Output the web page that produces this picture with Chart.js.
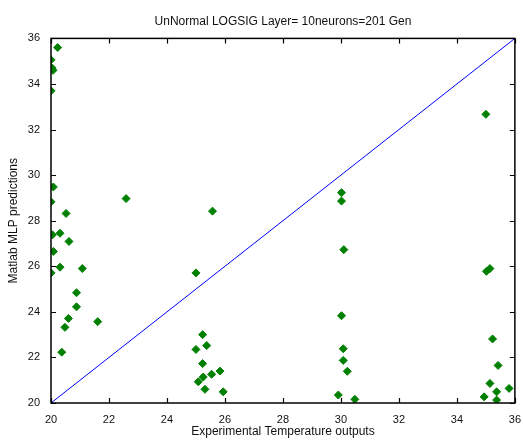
<!DOCTYPE html>
<html>
<head>
<meta charset="utf-8">
<script src="https://cdn.jsdelivr.net/npm/chart.js@4"></script>
<style>
  body { margin: 0; background: #fff; }
  #wrap { width: 523px; height: 442px; }
</style>
</head>
<body>
<div id="wrap"><canvas id="myChart"></canvas></div>
<script>
const expX = [
  20.23, 20.0, 20.04, 20.07, 20.0,
  20.08, 20.0, 22.59, 20.52, 20.05, 20.31, 20.62, 20.08, 20.31, 20.0, 21.08,
  20.88, 20.88, 20.6, 20.48, 21.61, 20.37,
  25.57, 25.0, 25.23, 25.0, 25.37, 25.23, 25.83, 25.54, 25.25, 25.08, 25.31, 25.94,
  30.02, 30.02, 30.1, 30.02, 30.08, 30.08, 30.22, 29.91, 30.48,
  35.0, 35.02, 35.14, 35.23, 35.42, 35.14, 35.8, 35.37, 34.94, 35.37,
];
const mlpY = [
  35.6, 35.06, 34.7, 34.6, 33.7,
  29.48, 28.83, 28.97, 28.32, 27.38, 27.45, 27.09, 26.65, 25.96, 25.71, 25.9,
  24.84, 24.22, 23.71, 23.32, 23.57, 22.23,
  28.42, 25.71, 23.0, 22.35, 22.52, 21.73, 21.4, 21.26, 21.14, 20.93, 20.6, 20.49,
  29.23, 28.86, 26.73, 23.83, 22.38, 21.87, 21.39, 20.35, 20.16,
  32.67, 25.78, 25.9, 22.81, 21.65, 20.86, 20.64, 20.49, 20.27, 20.13,
];
const lineX = [20, 36];
const lineY = [20, 36];

const FONT = "'Liberation Sans', Arial, sans-serif";

const points = expX.map((v, i) => ({ x: v, y: mlpY[i] }));
const idealLine = lineX.map((v, i) => ({ x: v, y: lineY[i] }));

// matlab style box with inward ticks on all sides
const boxTicks = {
  id: "boxTicks",
  afterDraw(chart) {
    const { ctx, chartArea, scales } = chart;
    const { left, right, top, bottom } = chartArea;
    ctx.save();
    ctx.strokeStyle = "#000";
    ctx.lineWidth = 1.5;
    ctx.strokeRect(left, top, right - left, bottom - top);
    ctx.lineWidth = 1.2;
    ctx.beginPath();
    scales.x.ticks.forEach((t) => {
      const px = Math.round(scales.x.getPixelForValue(t.value)) + 0.5;
      ctx.moveTo(px, bottom);
      ctx.lineTo(px, bottom - 5);
      ctx.moveTo(px, top);
      ctx.lineTo(px, top + 5);
    });
    scales.y.ticks.forEach((t) => {
      const py = Math.round(scales.y.getPixelForValue(t.value)) + 0.5;
      ctx.moveTo(left, py);
      ctx.lineTo(left + 5, py);
      ctx.moveTo(right, py);
      ctx.lineTo(right - 5, py);
    });
    ctx.stroke();
    ctx.restore();
  },
};

new Chart(document.getElementById("myChart").getContext("2d"), {
  type: "scatter",
  data: {
    datasets: [
      {
        label: "ideal",
        type: "line",
        data: idealLine,
        borderColor: "#0000ff",
        borderWidth: 1,
        pointRadius: 0,
        fill: false,
      },
      {
        label: "predictions",
        data: points,
        pointStyle: "rectRot",
        pointRadius: 4,
        backgroundColor: "#008000",
        borderColor: "#008000",
        borderWidth: 1,
      },
    ],
  },
  options: {
    responsive: true,
    maintainAspectRatio: false,
    animation: false,
    layout: { padding: { top: 1, right: 8, left: 0, bottom: 0 } },
    scales: {
      x: {
        type: "linear",
        min: 20,
        max: 36,
        grid: { display: false },
        border: { display: false },
        ticks: {
          stepSize: 2,
          padding: 2,
          color: "#111",
          maxRotation: 0,
          font: { family: FONT, size: 11 },
        },
        title: {
          display: true,
          text: "Experimental Temperature outputs",
          color: "#111",
          padding: { top: 0, bottom: 3 },
          font: { family: FONT, size: 12 },
        },
        afterFit: (scale) => { scale.height = 39; },
      },
      y: {
        type: "linear",
        min: 20,
        max: 36,
        grid: { display: false },
        border: { display: false },
        ticks: {
          stepSize: 2,
          padding: 3,
          color: "#111",
          font: { family: FONT, size: 11 },
        },
        title: {
          display: true,
          text: "Matlab MLP predictions",
          color: "#111",
          padding: { top: 6, bottom: 0 },
          font: { family: FONT, size: 12 },
        },
        afterFit: (scale) => { scale.width = 51; },
      },
    },
    plugins: {
      legend: { display: false },
      tooltip: { enabled: false },
      title: {
        display: true,
        fullSize: false,
        text: "UnNormal LOGSIG Layer= 10neurons=201 Gen",
        color: "#111",
        font: { family: FONT, size: 12, weight: "normal" },
        padding: { top: 13, bottom: 10 },
      },
    },
  },
  plugins: [boxTicks],
});
</script>
</body>
</html>
